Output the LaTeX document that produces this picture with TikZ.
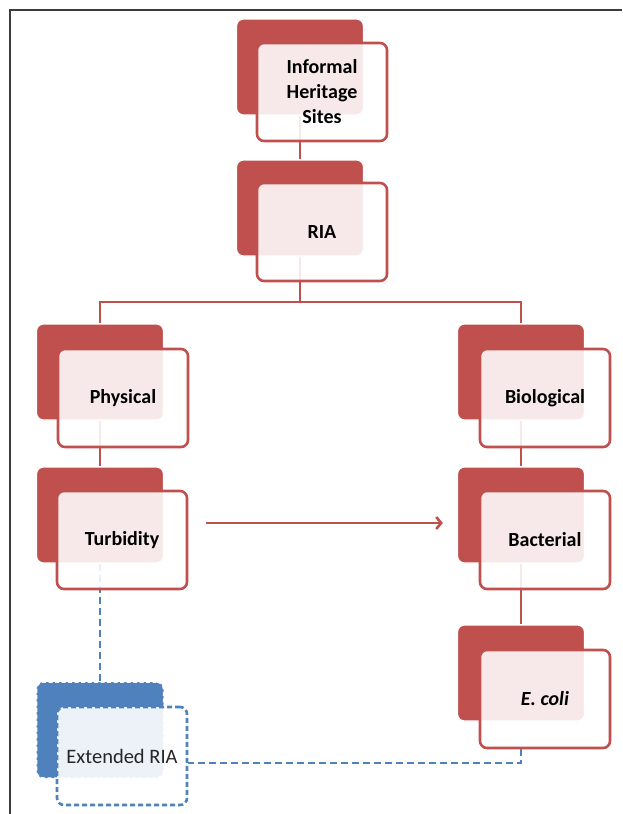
\documentclass[tikz,border=0pt]{standalone}
\usepackage{fontspec}
\setmainfont{Carlito}
\usepackage{tikz}
\usetikzlibrary{arrows.meta,calc}
\definecolor{riared}{HTML}{C0504D}
\definecolor{riablue}{HTML}{4F81BD}
\definecolor{inkgray}{HTML}{262626}

\begin{document}
\begin{tikzpicture}[x=1pt,y=-1pt,
		backbox/.style={draw=white,line width=1.2pt,fill=riared,rounded corners=7pt,
			minimum width=127pt,minimum height=96pt,inner sep=0pt},
		frontbox/.style={draw=riared,line width=2.6pt,fill=white,fill opacity=0.88,text opacity=1,
			rounded corners=7pt,minimum width=130pt,minimum height=98pt,inner sep=0pt,
			align=center,font=\fontsize{20}{25}\selectfont\bfseries},
		extback/.style={backbox,fill=riablue,line width=1.5pt,dash pattern=on 4pt off 2.5pt},
		extfront/.style={frontbox,draw=riablue,dash pattern=on 5pt off 3pt,
			fill opacity=0.9,text=inkgray,font=\fontsize{20.5}{25}\selectfont},
		link/.style={draw=riared,line width=2.6pt},
		linkdash/.style={draw=riablue,line width=2.6pt,dash pattern=on 7pt off 4pt}]
		\useasboundingbox (0,0) rectangle (622,814);

		% Frame
		\draw[line width=2.2pt,draw=inkgray!90] (10,814) -- (10,10) -- (622,10);

		% Back boxes
		\node[backbox] (sitesB) at (300,67) {};
		\node[backbox] (riaB) at (300,208) {};
		\node[backbox] (physB) at (100,372) {};
		\node[backbox] (bioB) at (521,372) {};
		\node[backbox] (turbB) at (100,515) {};
		\node[backbox] (bactB) at (521,515) {};
		\node[backbox] (coliB) at (521,673) {};
		\node[extback] (extB) at (100,730) {};

		% Tree links
		\coordinate (fork) at (300,302);
		\draw[link] (sitesB.south) -- (riaB.north);
		\draw[link] (riaB.south) -- (fork);
		\draw[link] (fork) -| (physB.north);
		\draw[link] (fork) -| (bioB.north);
		\draw[link] (physB.south) -- (turbB.north);
		\draw[link] (bioB.south) -- (bactB.north);
		\draw[link] (bactB.south) -- (coliB.north);
		\draw[linkdash] (turbB.south) -- (extB.north);

		% Front boxes
		\node[frontbox] (sites) at (322,92) {Informal\\Heritage\\Sites};
		\node[frontbox] (ria) at (322,232) {RIA};
		\node[frontbox] (phys) at (123,398) {Physical};
		\node[frontbox] (bio) at (545,398) {Biological};
		\node[frontbox] (turb) at (122,540) {Turbidity};
		\node[frontbox] (bact) at (545,540) {Bacterial};
		\node[frontbox] (coli) at (545,699) {\textit{E. coli}};
		\node[extfront] (ext) at (122,756) {Extended RIA};

		% Cross links
		\draw[link,-{Straight Barb[length=5pt,width=12pt]}] ([xshift=18pt,yshift=17pt]turb.east)
			-- ([xshift=-14pt,yshift=17pt]bactB.west |- turb.east);
		\coordinate (extR) at ([yshift=-7pt]ext.east);
		\draw[linkdash] (coliB.south |- coli.south) |- (extR);
	\end{tikzpicture}
\end{document}
